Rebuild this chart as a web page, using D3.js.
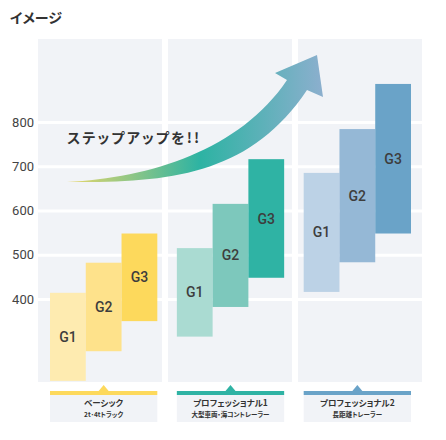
<!DOCTYPE html>
<html>
<head>
<meta charset="utf-8">
<script src="https://cdn.jsdelivr.net/npm/d3@7"></script>
<style>
  body { margin: 0; background: #fff; }
  text { font-family: Roboto, "Noto Sans CJK JP", sans-serif; }
  .jp { font-family: "Noto Sans CJK JP", sans-serif; font-feature-settings: "palt"; }
</style>
</head>
<body>
<div id="chart"></div>
<script>
// データ
var groups = ['ベーシック', 'プロフェッショナル1', 'プロフェッショナル2'];
var subLabels = ['2t･4tトラック', '大型車両・海コントレーラー', '長距離トレーラー'];
var grades = ['G1', 'G2', 'G3'];
var lowValues = [[215, 282, 350], [315, 382, 448], [416, 483, 548]];
var highValues = [[414, 482, 548], [515, 615, 716], [685, 784, 886]];
var yTicks = [400, 500, 600, 700, 800];
var colors = [
  ['#feebb0', '#fee28b', '#fdd95c'],
  ['#aadbd2', '#7dc8bc', '#2fb3a4'],
  ['#bcd2e6', '#95b8d6', '#6aa3c8']
];
var lineColors = ['#fdd95c', '#2fb3a4', '#6aa3c8'];

var width = 446, height = 440;
var panelTop = 39, panelBottom = 382;

var svg = d3.select('#chart').append('svg')
  .attr('width', width)
  .attr('height', height);

// タイトル
svg.append('text')
  .attr('class', 'jp')
  .attr('x', 10)
  .attr('y', 23)
  .attr('font-size', 14)
  .attr('font-weight', 'bold')
  .attr('fill', '#333')
  .text('イメージ');

var y = d3.scaleLinear().domain([400, 800]).range([299, 122]);

// パネル
var panelX = d3.scaleBand().domain(groups).range([38, 422]).paddingInner(0.046);
// 棒グループ
var groupX = d3.scaleBand().domain(groups).range([50, 411]).paddingInner(0.154).paddingOuter(0);
var gradeX = d3.scaleBand().domain(grades).range([0, groupX.bandwidth()]).padding(0);

svg.append('g').selectAll('rect')
  .data(groups)
  .enter()
  .append('rect')
  .attr('x', function (d) { return panelX(d); })
  .attr('y', panelTop)
  .attr('width', panelX.bandwidth())
  .attr('height', panelBottom - panelTop)
  .attr('fill', '#f1f3f7');

// 補助線
var grid = svg.append('g')
  .attr('transform', 'translate(38,0)')
  .call(d3.axisLeft(y).tickValues(yTicks).tickSize(-384).tickFormat(''));
grid.select('.domain').remove();
grid.selectAll('line').attr('stroke', '#fff').attr('stroke-width', 3);

// Y軸ラベル
var yAxis = svg.append('g')
  .attr('transform', 'translate(36,0)')
  .call(d3.axisLeft(y).tickValues(yTicks).tickSize(0).tickPadding(2));
yAxis.select('.domain').remove();
yAxis.selectAll('text')
  .attr('font-size', 13)
  .attr('fill', '#444')
  .attr('font-family', 'Roboto, sans-serif');

// 棒
var bars = [];
groups.forEach(function (g, gi) {
  grades.forEach(function (gr, ri) {
    bars.push({ group: g, gi: gi, grade: gr, ri: ri, lo: lowValues[gi][ri], hi: highValues[gi][ri] });
  });
});

var barG = svg.append('g').selectAll('g')
  .data(bars)
  .enter()
  .append('g')
  .attr('transform', function (d) {
    return 'translate(' + (groupX(d.group) + gradeX(d.grade)) + ',0)';
  });

barG.append('rect')
  .attr('y', function (d) { return y(d.hi); })
  .attr('width', gradeX.bandwidth())
  .attr('height', function (d) { return y(d.lo) - y(d.hi); })
  .attr('fill', function (d) { return colors[d.gi][d.ri]; });

barG.append('text')
  .attr('x', gradeX.bandwidth() / 2)
  .attr('y', function (d) { return (y(d.lo) + y(d.hi)) / 2; })
  .attr('dy', '0.36em')
  .attr('text-anchor', 'middle')
  .attr('font-size', 14)
  .attr('font-weight', 500)
  .attr('fill', '#3d3d3d')
  .text(function (d) { return d.grade; });

// 矢印
var defs = svg.append('defs');
var grad = defs.append('linearGradient')
  .attr('id', 'arrowGrad')
  .attr('gradientUnits', 'userSpaceOnUse')
  .attr('x1', 67).attr('y1', 0).attr('x2', 323).attr('y2', 0);
grad.append('stop').attr('offset', 0).attr('stop-color', '#ead86a');
grad.append('stop').attr('offset', 0.52).attr('stop-color', '#2db3a3');
grad.append('stop').attr('offset', 1).attr('stop-color', '#8cafce');

var p = d3.path();
p.moveTo(67, 182);
p.bezierCurveTo(170, 183, 250, 175, 307, 90);
p.lineTo(323, 97);
p.lineTo(317, 55);
p.lineTo(275, 73);
p.lineTo(287, 80);
p.bezierCurveTo(240, 150, 150, 178, 67, 182);
p.closePath();

svg.append('path')
  .attr('d', p.toString())
  .attr('fill', 'url(#arrowGrad)');

svg.append('text')
  .attr('class', 'jp')
  .attr('x', 67)
  .attr('y', 143)
  .attr('font-size', 14)
  .attr('font-weight', 'bold')
  .attr('letter-spacing', 2.2)
  .attr('fill', '#333')
  .text('ステップアップを!!');

// カテゴリラベル
var cat = svg.append('g').selectAll('g')
  .data(groups)
  .enter()
  .append('g')
  .attr('transform', function (d) { return 'translate(' + groupX(d) + ',0)'; });

var bw = groupX.bandwidth();

cat.append('rect')
  .attr('y', 395)
  .attr('width', bw)
  .attr('height', 27)
  .attr('fill', '#f1f3f7');

cat.append('rect')
  .attr('y', 391)
  .attr('width', bw)
  .attr('height', 4)
  .attr('fill', function (d, i) { return lineColors[i]; });

cat.append('path')
  .attr('d', 'M' + (bw / 2 - 5) + ',391L' + (bw / 2) + ',385L' + (bw / 2 + 5) + ',391Z')
  .attr('fill', function (d, i) { return lineColors[i]; });

cat.append('text')
  .attr('class', 'jp')
  .attr('x', bw / 2)
  .attr('y', 406)
  .attr('text-anchor', 'middle')
  .attr('font-size', 8.5)
  .attr('font-weight', 'bold')
  .attr('fill', '#333')
  .text(function (d) { return d; });

cat.append('text')
  .attr('class', 'jp')
  .attr('x', bw / 2)
  .attr('y', 417)
  .attr('text-anchor', 'middle')
  .attr('font-size', 6.5)
  .attr('font-weight', 'bold')
  .attr('fill', '#333')
  .text(function (d, i) { return subLabels[i]; });
</script>
</body>
</html>
